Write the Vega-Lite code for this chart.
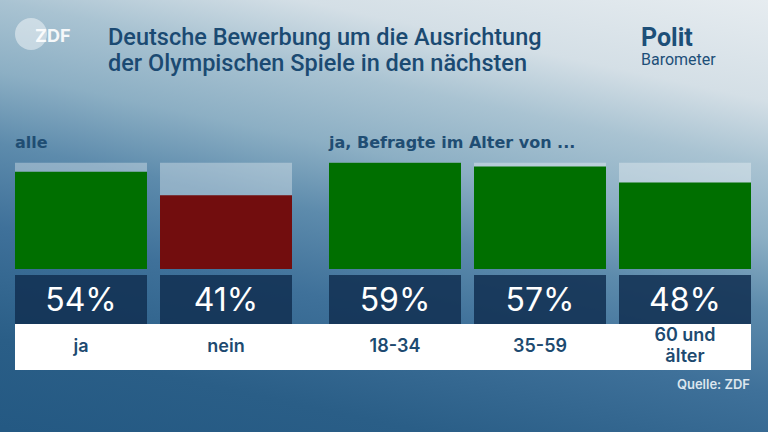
{
  "$schema": "https://vega.github.io/schema/vega-lite/v6.json",
  "width": 768,
  "height": 432,
  "autosize": {"type": "fit", "contains": "padding"},
  "padding": 0,
  "background": "#245983",
  "config": {"view": {"stroke": null}},
  "datasets": {
    "poll": [
      {"group": "alle", "category": "ja", "answer": "ja", "percent": 54, "label": ["ja"]},
      {"group": "alle", "category": "nein", "answer": "nein", "percent": 41, "label": ["nein"]},
      {"group": "alter", "category": "18-34", "answer": "ja", "percent": 59, "label": ["18-34"]},
      {"group": "alter", "category": "35-59", "answer": "ja", "percent": 57, "label": ["35-59"]},
      {"group": "alter", "category": "60 und älter", "answer": "ja", "percent": 48, "label": ["60 und", "älter"]}
    ]
  },
  "resolve": {"scale": {"x": "independent"}},
  "layer": [
    {
      "data": {"values": [{}]},
      "mark": {
        "type": "rect",
        "fill": {
          "gradient": "linear",
          "x1": 1, "y1": 0, "x2": 0.54, "y2": 1.2,
          "stops": [
            {"offset": 0, "color": "#e6ecf0"},
            {"offset": 0.17, "color": "#d4dfe6"},
            {"offset": 0.28, "color": "#a9c3d2"},
            {"offset": 0.4, "color": "#8cafc4"},
            {"offset": 0.52, "color": "#5d8bac"},
            {"offset": 0.66, "color": "#3f719a"},
            {"offset": 0.85, "color": "#2a5e87"},
            {"offset": 1, "color": "#245983"}
          ]
        }
      },
      "encoding": {
        "x": {"value": 0}, "x2": {"value": "width"},
        "y": {"value": 0}, "y2": {"value": "height"}
      }
    },
    {
      "data": {"values": [{}]},
      "mark": {"type": "rect", "fill": "#ffffff"},
      "encoding": {
        "x": {"value": 15}, "x2": {"value": 751},
        "y": {"value": 324}, "y2": {"value": 370}
      }
    },
    {
      "data": {"values": [{}]},
      "mark": {"type": "arc", "fill": "#ffffff", "opacity": 0.45},
      "encoding": {
        "x": {"value": 31}, "y": {"value": 34},
        "theta": {"value": 6.2832}, "radius": {"value": 16}
      }
    },
    {
      "data": {"values": [{"t": "ZDF"}]},
      "mark": {"type": "text", "font": "Inter", "fontWeight": 700, "fontSize": 18, "fill": "#ffffff", "align": "left", "baseline": "alphabetic", "opacity": 0.9},
      "encoding": {"x": {"value": 35}, "y": {"value": 42}, "text": {"field": "t"}}
    },
    {
      "data": {"values": [{"t": ["Deutsche Bewerbung um die Ausrichtung", "der Olympischen Spiele in den nächsten"]}]},
      "mark": {"type": "text", "font": "Roboto", "fontWeight": 500, "fontSize": 23.5, "lineHeight": 25.5, "fill": "#1b4a72", "align": "left", "baseline": "alphabetic"},
      "encoding": {"x": {"value": 108}, "y": {"value": 45}, "text": {"field": "t"}}
    },
    {
      "data": {"values": [{"t": "Polit"}]},
      "mark": {"type": "text", "font": "Roboto", "fontWeight": 700, "fontSize": 25, "fill": "#1d4f78", "align": "left", "baseline": "alphabetic"},
      "encoding": {"x": {"value": 641}, "y": {"value": 46}, "text": {"field": "t"}}
    },
    {
      "data": {"values": [{"t": "Barometer"}]},
      "mark": {"type": "text", "font": "Roboto", "fontWeight": 400, "fontSize": 16, "fill": "#1d4f78", "align": "left", "baseline": "alphabetic"},
      "encoding": {"x": {"value": 641}, "y": {"value": 65}, "text": {"field": "t"}}
    },
    {
      "data": {"values": [{"t": "Quelle: ZDF"}]},
      "mark": {"type": "text", "font": "Inter", "fontWeight": 600, "fontSize": 13, "fill": "#dce6ee", "align": "right", "baseline": "alphabetic"},
      "encoding": {"x": {"value": 750}, "y": {"value": 389}, "text": {"field": "t"}}
    },
    {
      "data": {"name": "poll"},
      "transform": [{"filter": "datum.group === 'alle'"}],
      "encoding": {
        "x": {
          "field": "category", "type": "nominal", "sort": null, "axis": null,
          "scale": {"range": [15, 292], "paddingInner": 0.0897, "paddingOuter": 0}
        }
      },
      "layer": [
        {
          "mark": {"type": "bar", "fill": "#ffffff", "opacity": 0.33},
          "encoding": {
            "y": {"datum": 59, "type": "quantitative", "axis": null, "scale": {"domain": [0, 59], "range": [269, 161]}},
            "y2": {"datum": 0}
          }
        },
        {
          "mark": {"type": "bar"},
          "encoding": {
            "y": {"field": "percent", "type": "quantitative", "axis": null},
            "y2": {"datum": 0},
            "color": {"field": "answer", "type": "nominal", "legend": null, "scale": {"domain": ["ja", "nein"], "range": ["#006f00", "#720d0e"]}}
          }
        },
        {
          "mark": {"type": "rect", "fill": "#123153", "opacity": 0.88},
          "encoding": {"y": {"value": 275}, "y2": {"value": 324}}
        },
        {
          "transform": [{"calculate": "datum.percent + '%'", "as": "pct"}],
          "mark": {"type": "text", "font": "Inter", "fontWeight": 400, "fontSize": 32, "fill": "#ffffff", "baseline": "middle"},
          "encoding": {"y": {"value": 301}, "text": {"field": "pct"}}
        },
        {
          "mark": {"type": "text", "font": "Inter", "fontWeight": 600, "fontSize": 18, "lineHeight": 21, "fill": "#1d4a70", "baseline": "middle"},
          "encoding": {"y": {"value": 347}, "text": {"field": "label"}}
        },
        {
          "transform": [{"filter": "datum.category === 'ja'"}],
          "mark": {"type": "text", "font": "DejaVu Sans", "fontWeight": 700, "fontSize": 16, "fill": "#1f4d73", "align": "left", "baseline": "alphabetic"},
          "encoding": {"x": {"field": "category", "type": "nominal", "bandPosition": 0}, "y": {"value": 148}, "text": {"value": "alle"}}
        }
      ]
    },
    {
      "data": {"name": "poll"},
      "transform": [{"filter": "datum.group === 'alter'"}],
      "encoding": {
        "x": {
          "field": "category", "type": "nominal", "sort": null, "axis": null,
          "scale": {"range": [329, 751], "paddingInner": 0.0897, "paddingOuter": 0}
        }
      },
      "layer": [
        {
          "mark": {"type": "bar", "fill": "#ffffff", "opacity": 0.33},
          "encoding": {
            "y": {"datum": 59, "type": "quantitative", "axis": null},
            "y2": {"datum": 0}
          }
        },
        {
          "mark": {"type": "bar"},
          "encoding": {
            "y": {"field": "percent", "type": "quantitative", "axis": null},
            "y2": {"datum": 0},
            "color": {"field": "answer", "type": "nominal", "legend": null}
          }
        },
        {
          "mark": {"type": "rect", "fill": "#123153", "opacity": 0.88},
          "encoding": {"y": {"value": 275}, "y2": {"value": 324}}
        },
        {
          "transform": [{"calculate": "datum.percent + '%'", "as": "pct"}],
          "mark": {"type": "text", "font": "Inter", "fontWeight": 400, "fontSize": 32, "fill": "#ffffff", "baseline": "middle"},
          "encoding": {"y": {"value": 301}, "text": {"field": "pct"}}
        },
        {
          "transform": [{"filter": "length(datum.label) === 1"}],
          "mark": {"type": "text", "font": "Inter", "fontWeight": 600, "fontSize": 18, "lineHeight": 21, "fill": "#1d4a70", "baseline": "middle"},
          "encoding": {"y": {"value": 347}, "text": {"field": "label"}}
        },
        {
          "transform": [{"filter": "length(datum.label) > 1"}],
          "mark": {"type": "text", "font": "Inter", "fontWeight": 600, "fontSize": 18, "lineHeight": 21, "fill": "#1d4a70", "baseline": "middle"},
          "encoding": {"y": {"value": 336}, "text": {"field": "label"}}
        },
        {
          "transform": [{"filter": "datum.category === '18-34'"}],
          "mark": {"type": "text", "font": "DejaVu Sans", "fontWeight": 700, "fontSize": 16, "fill": "#1f4d73", "align": "left", "baseline": "alphabetic"},
          "encoding": {"x": {"field": "category", "type": "nominal", "bandPosition": 0}, "y": {"value": 148}, "text": {"value": "ja, Befragte im Alter von ..."}}
        }
      ]
    }
  ]
}
